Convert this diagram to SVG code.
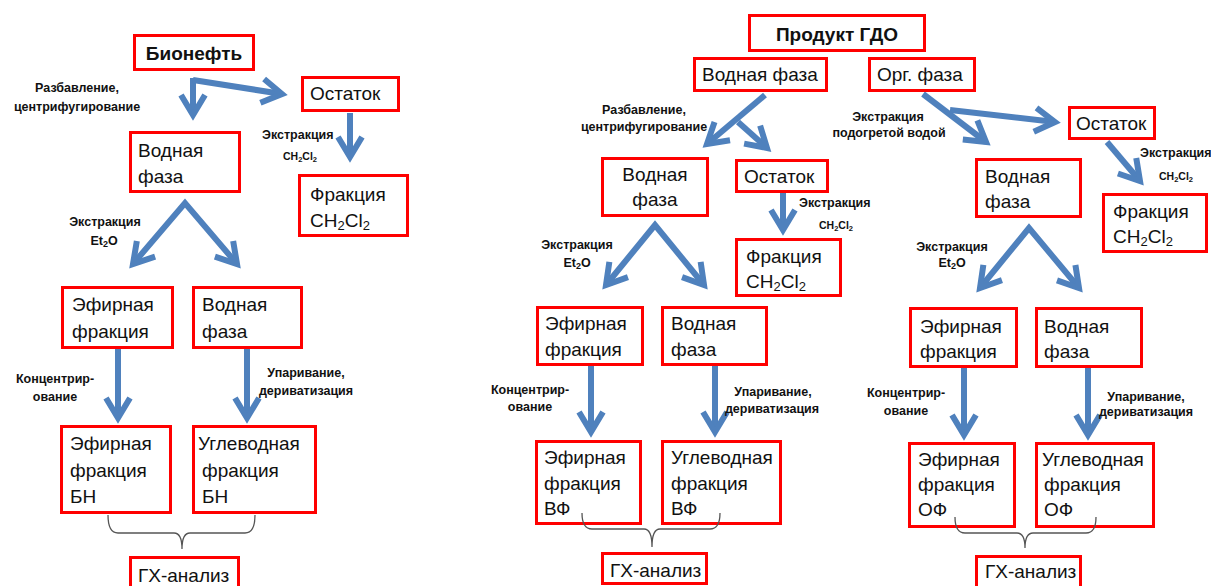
<svg xmlns="http://www.w3.org/2000/svg" width="1211" height="586" viewBox="0 0 1211 586">
<style>
.box{fill:#fff;stroke:#ff0000;stroke-width:3}
.t{font-family:"Liberation Sans",Arial,sans-serif;font-size:19px;fill:#111}
.tb{font-family:"Liberation Sans",Arial,sans-serif;font-size:19px;font-weight:bold;fill:#111}
.lb{font-family:"Liberation Sans",Arial,sans-serif;font-size:12.5px;font-weight:bold;fill:#111}
.sm{font-family:"Liberation Sans",Arial,sans-serif;font-size:10.5px;font-weight:bold;fill:#111}
.sub{font-size:13px}
.subs{font-size:7.5px}
.c{text-anchor:middle}
.ar{fill:none;stroke:#4f81bd;stroke-width:6;stroke-linejoin:miter;marker-end:url(#ah)}
.ar2{fill:none;stroke:#4f81bd;stroke-width:6;stroke-linejoin:miter;marker-start:url(#ah);marker-end:url(#ah)}
.br{fill:none;stroke:#555;stroke-width:1.3}
</style>
<defs>
<marker id="ah" markerUnits="userSpaceOnUse" markerWidth="40" markerHeight="40" viewBox="-30 -20 40 40" refX="0" refY="0" orient="auto-start-reverse" overflow="visible">
<path d="M-20,-12 L0,0 L-20,12" fill="none" stroke="#4f81bd" stroke-width="6" stroke-linejoin="miter"/>
</marker>
</defs>
<rect width="1211" height="586" fill="#fff"/>

<g id="connectors">
<path class="ar" d="M193,78 L193,115"/>
<path class="ar" d="M193,80 L282,94"/>
<path class="ar" d="M350,113 L350,157"/>
<path class="ar2" d="M133,264 L185,203 L237,264"/>
<path class="ar" d="M118,348 L118,418"/>
<path class="ar" d="M247,348 L247,418"/>

<path class="ar" d="M765,95 L707,144"/>
<path class="ar" d="M738,122 L767,148"/>
<path class="ar" d="M783,193 L783,230"/>
<path class="ar2" d="M606,285 L655,225 L704,285"/>
<path class="ar" d="M591,366 L591,432"/>
<path class="ar" d="M715,366 L715,432"/>

<path class="ar" d="M923,94 L986,142"/>
<path class="ar" d="M950,110 L1055,122"/>
<path class="ar" d="M1107,142 L1140,181"/>
<path class="ar2" d="M980,288 L1029,228 L1079,288"/>
<path class="ar" d="M964,368 L964,435"/>
<path class="ar" d="M1088,368 L1088,435"/>
</g>

<g id="labels">
<text class="lb c" x="77" y="92">Разбавление,</text>
<text class="lb c" x="77" y="111">центрифугирование</text>
<text class="lb" x="262" y="139">Экстракция</text>
<text class="sm" x="283" y="160">CH<tspan class="subs" dy="1.5">2</tspan><tspan dy="-1.5">Cl</tspan><tspan class="subs" dy="1.5">2</tspan></text>
<text class="lb c" x="105" y="226">Экстракция</text>
<text class="lb c" x="104" y="245">Et<tspan font-size="9" dy="2">2</tspan><tspan dy="-2">O</tspan></text>
<text class="lb c" x="55" y="383">Концентрир-</text>
<text class="lb c" x="55" y="401">ование</text>
<text class="lb c" x="306" y="377">Упаривание,</text>
<text class="lb c" x="306" y="395">дериватизация</text>

<text class="lb c" x="644" y="114">Разбавление,</text>
<text class="lb c" x="644" y="131">центрифугирование</text>
<text class="lb" x="799" y="207">Экстракция</text>
<text class="sm" x="819" y="229">CH<tspan class="subs" dy="1.5">2</tspan><tspan dy="-1.5">Cl</tspan><tspan class="subs" dy="1.5">2</tspan></text>
<text class="lb c" x="577" y="249">Экстракция</text>
<text class="lb c" x="577" y="267">Et<tspan font-size="9" dy="2">2</tspan><tspan dy="-2">O</tspan></text>
<text class="lb c" x="530" y="394">Концентрир-</text>
<text class="lb c" x="530" y="411">ование</text>
<text class="lb c" x="773" y="396">Упаривание,</text>
<text class="lb c" x="772" y="413">дериватизация</text>

<text class="lb c" x="888" y="121">Экстракция</text>
<text class="lb c" x="889" y="137">подогретой водой</text>
<text class="lb" x="1140" y="157">Экстракция</text>
<text class="sm" x="1159" y="180">CH<tspan class="subs" dy="1.5">2</tspan><tspan dy="-1.5">Cl</tspan><tspan class="subs" dy="1.5">2</tspan></text>
<text class="lb c" x="952" y="251">Экстракция</text>
<text class="lb c" x="952" y="267">Et<tspan font-size="9" dy="2">2</tspan><tspan dy="-2">O</tspan></text>
<text class="lb c" x="906" y="397">Концентрир-</text>
<text class="lb c" x="906" y="415">ование</text>
<text class="lb c" x="1146" y="401">Упаривание,</text>
<text class="lb c" x="1146" y="416">дериватизация</text>
</g>

<g id="n-bioneft"><rect class="box" x="134.5" y="35.5" width="119" height="34"/><text class="tb c" x="194" y="60" font-size="20">Бионефть</text></g>
<g id="n-l-ostatok"><rect class="box" x="302.5" y="77.5" width="96" height="33"/><text class="t" x="310" y="100">Остаток</text></g>
<g id="n-l-vodnaya"><rect class="box" x="130.5" y="132.5" width="109" height="59"/><text class="t" x="138" y="157">Водная</text><text class="t" x="138" y="183">фаза</text></g>
<g id="n-l-ch2cl2"><rect class="box" x="299.5" y="175.5" width="108" height="60"/><text class="t" x="310" y="201">Фракция</text><text class="t" x="310" y="227">CH<tspan class="sub" dy="3">2</tspan><tspan dy="-3">Cl</tspan><tspan class="sub" dy="3">2</tspan></text></g>
<g id="n-l-efir"><rect class="box" x="62.5" y="287.5" width="110" height="60"/><text class="t" x="72" y="311">Эфирная</text><text class="t" x="72" y="338">фракция</text></g>
<g id="n-l-vodn2"><rect class="box" x="193.5" y="287.5" width="108" height="60"/><text class="t" x="202" y="311">Водная</text><text class="t" x="202" y="338">фаза</text></g>
<g id="n-l-efir-bn"><rect class="box" x="61.5" y="426.5" width="109" height="86"/><text class="t" x="70" y="450">Эфирная</text><text class="t" x="70" y="477">фракция</text><text class="t" x="70" y="503">БН</text></g>
<g id="n-l-ugl-bn"><rect class="box" x="193.5" y="426.5" width="122" height="86"/><text class="t" x="198" y="450">Углеводная</text><text class="t" x="202" y="477">фракция</text><text class="t" x="202" y="503">БН</text></g>
<g id="n-l-gx"><rect class="box" x="130.5" y="557.5" width="108" height="40"/><text class="t" x="138" y="582">ГХ-анализ</text></g>

<g id="n-produkt"><rect class="box" x="749.5" y="15.5" width="175" height="35"/><text class="tb c" x="837" y="41" font-size="20">Продукт ГДО</text></g>
<g id="n-m-vf"><rect class="box" x="694.5" y="58.5" width="132" height="32"/><text class="t" x="702" y="81">Водная фаза</text></g>
<g id="n-org"><rect class="box" x="869.5" y="58.5" width="105" height="32"/><text class="t" x="877" y="81">Орг. фаза</text></g>
<g id="n-m-vodnaya"><rect class="box" x="602.5" y="158.5" width="105" height="57"/><text class="t c" x="655" y="181">Водная</text><text class="t c" x="655" y="206">фаза</text></g>
<g id="n-m-ostatok"><rect class="box" x="736.5" y="160.5" width="91" height="31"/><text class="t" x="744" y="183">Остаток</text></g>
<g id="n-m-ch2cl2"><rect class="box" x="736.5" y="239.5" width="104" height="56"/><text class="t" x="746" y="263">Фракция</text><text class="t" x="746" y="288">CH<tspan class="sub" dy="3">2</tspan><tspan dy="-3">Cl</tspan><tspan class="sub" dy="3">2</tspan></text></g>
<g id="n-m-efir"><rect class="box" x="537.5" y="307.5" width="105" height="57"/><text class="t" x="545" y="330">Эфирная</text><text class="t" x="545" y="356">фракция</text></g>
<g id="n-m-vodn2"><rect class="box" x="662.5" y="307.5" width="104" height="57"/><text class="t" x="671" y="330">Водная</text><text class="t" x="671" y="356">фаза</text></g>
<g id="n-m-efir-vf"><rect class="box" x="536.5" y="441.5" width="104" height="82"/><text class="t" x="544" y="464">Эфирная</text><text class="t" x="544" y="490">фракция</text><text class="t" x="544" y="515">ВФ</text></g>
<g id="n-m-ugl-vf"><rect class="box" x="662.5" y="441.5" width="118" height="82"/><text class="t" x="671" y="464">Углеводная</text><text class="t" x="671" y="490">фракция</text><text class="t" x="671" y="515">ВФ</text></g>
<g id="n-m-gx"><rect class="box" x="602.5" y="553.5" width="104" height="30"/><text class="t" x="610" y="577">ГХ-анализ</text></g>

<g id="n-r-ostatok"><rect class="box" x="1069.5" y="107.5" width="85" height="31"/><text class="t" x="1076" y="130">Остаток</text></g>
<g id="n-r-ch2cl2"><rect class="box" x="1103.5" y="194.5" width="103" height="57"/><text class="t" x="1113" y="218">Фракция</text><text class="t" x="1113" y="243">CH<tspan class="sub" dy="3">2</tspan><tspan dy="-3">Cl</tspan><tspan class="sub" dy="3">2</tspan></text></g>
<g id="n-r-vodnaya"><rect class="box" x="976.5" y="159.5" width="104" height="57"/><text class="t" x="985" y="183">Водная</text><text class="t" x="985" y="208">фаза</text></g>
<g id="n-r-efir"><rect class="box" x="910.5" y="308.5" width="106" height="58"/><text class="t" x="920" y="333">Эфирная</text><text class="t" x="920" y="358">фракция</text></g>
<g id="n-r-vodn2"><rect class="box" x="1036.5" y="308.5" width="105" height="58"/><text class="t" x="1044" y="333">Водная</text><text class="t" x="1044" y="358">фаза</text></g>
<g id="n-r-efir-of"><rect class="box" x="909.5" y="443.5" width="105" height="83"/><text class="t" x="918" y="466">Эфирная</text><text class="t" x="918" y="491">фракция</text><text class="t" x="918" y="516">ОФ</text></g>
<g id="n-r-ugl-of"><rect class="box" x="1036.5" y="443.5" width="117" height="83"/><text class="t" x="1042" y="466">Углеводная</text><text class="t" x="1044" y="491">фракция</text><text class="t" x="1044" y="516">ОФ</text></g>
<g id="n-r-gx"><rect class="box" x="976.5" y="556.5" width="104" height="40"/><text class="t" x="985" y="578">ГХ-анализ</text></g>

<g id="braces">
<path class="br" d="M108,515 Q108,533 118,533 L174,533 Q182,533 182,549 Q182,533 190,533 L245,533 Q255,533 255,515"/>
<path class="br" d="M582,513 Q582,529 592,529 L644,529 Q652,529 652,547 Q652,529 660,529 L710,529 Q720,529 720,513"/>
<path class="br" d="M955,517 Q955,533 965,533 L1017,533 Q1025,533 1025,548 Q1025,533 1033,533 L1086,533 Q1096,533 1096,517"/>
</g>
</svg>
